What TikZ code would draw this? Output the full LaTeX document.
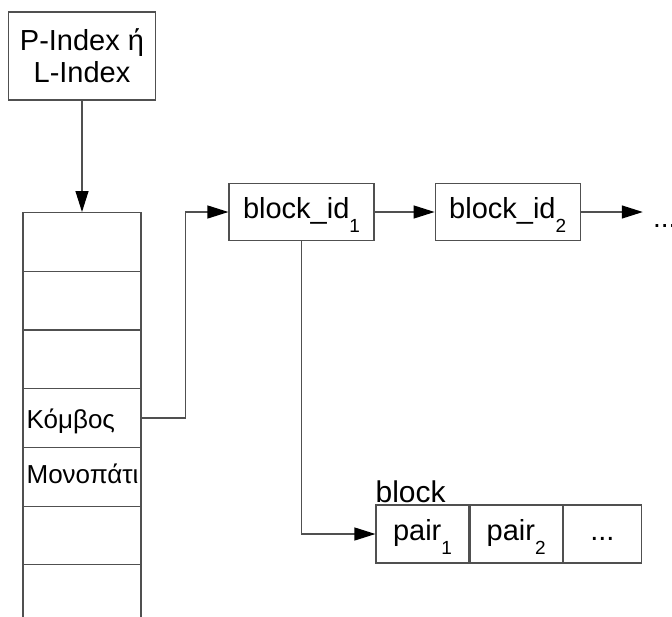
\documentclass[tikz,border=0pt]{standalone}
\usepackage{fontspec}
\setmainfont{Liberation Sans}
\usetikzlibrary{arrows.meta,positioning}
\definecolor{LineGray}{HTML}{505050}

% lowered index number, as in block_id_1
\newcommand{\lowidx}[1]{\raisebox{-0.5em}{\fontsize{19}{19}\selectfont #1}}

\begin{document}
\begin{tikzpicture}[x=1pt,y=-1pt,
    box/.style={draw=LineGray, line width=1.2pt, minimum width=145pt,
                minimum height=57pt, inner sep=0pt, text height=22pt,
                text depth=10pt, font=\fontsize{29}{33}\selectfont},
    pairbox/.style={box, minimum width=93pt, minimum height=58pt},
    cell/.style={draw=LineGray, line width=1.2pt, minimum width=118pt,
                 minimum height=58.7pt, inner sep=0pt, anchor=north},
    celltext/.style={anchor=base west, inner sep=0pt,
                     font=\fontsize{26}{30}\selectfont},
    link/.style={LineGray, line width=1.2pt,
                 -{Triangle[length=21pt,width=13pt,black]}},
    node distance=60pt
  ]
  \useasboundingbox (0,0) rectangle (672,616);

  % index on top of the column
  \node[draw=LineGray, line width=1.2pt, minimum width=147pt,
        minimum height=88pt, align=center,
        font=\fontsize{29}{32}\selectfont] (index) at (82,56) {P-Index ή\\L-Index};

  % column of cells, the last one runs off the page
  \foreach \i in {1,...,7}
    \node[cell] (cell\i) at (82,{212+(\i-1)*58.7}) {};
  \node[celltext] (knode) at ([shift={(4,10)}]cell4.west) {Κόμβος};
  \node[celltext] (kpath) at ([shift={(4,7)}]cell5.west) {Μονοπάτι};

  % chain of block ids
  \node[box] (bid1) at (301.5,212) {block\_id\lowidx{1}};
  \node[box, right=of bid1] (bid2) {block\_id\lowidx{2}};
  \coordinate[right=62pt of bid2] (more);
  \node[anchor=base west, inner sep=0pt,
        font=\fontsize{28}{32}\selectfont] (moredots) at ([shift={(10,15)}]more) {...};

  % contents of one block
  \node[pairbox] (pair1) at (422.5,534) {pair\lowidx{1}};
  \node[pairbox, right=0pt of pair1, minimum width=92pt] (pair2) {pair\lowidx{2}};
  \node[pairbox, right=0pt of pair2, minimum width=78pt] (prest) {...};
  \node[anchor=base west, inner sep=0pt, font=\fontsize{30}{34}\selectfont]
    (blabel) at ([yshift=2pt]pair1.north west) {block};

  \draw[link] (index) -- (cell1);
  \draw[link] (cell4.east) -- ++(44,0) |- (bid1.west);
  \draw[link] (bid1) -- (bid2);
  \draw[link] (bid2) -- (more);
  \draw[link] (bid1.south) |- (pair1.west);
\end{tikzpicture}
\end{document}
